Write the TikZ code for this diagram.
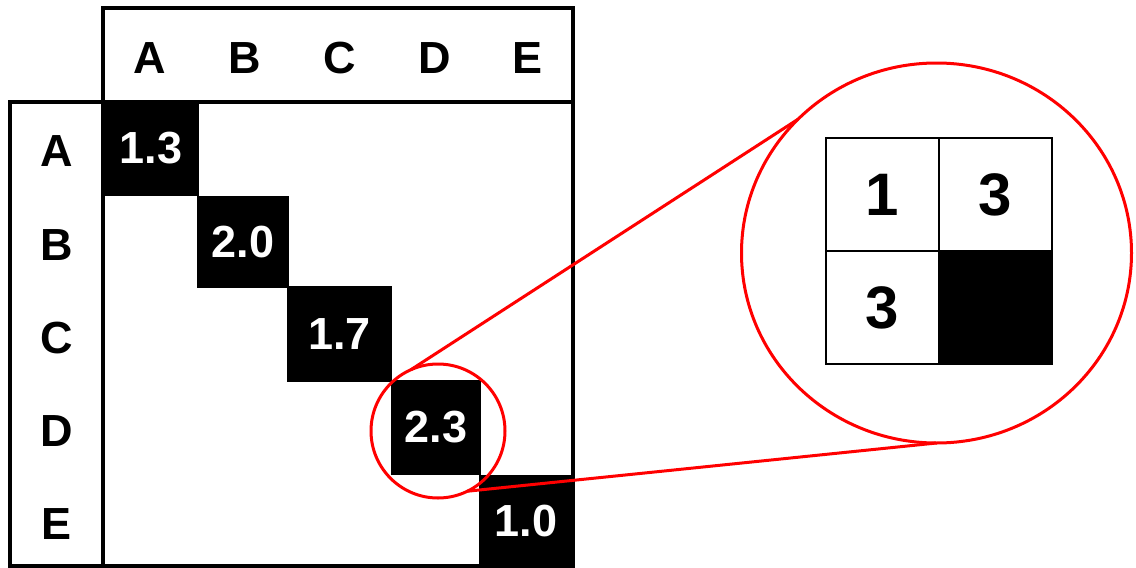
\documentclass[tikz,border=0pt]{standalone}
\usepackage{fontspec}
\setmainfont{Liberation Sans}
\usetikzlibrary{shapes.geometric}
\begin{document}
\begin{tikzpicture}[x=1pt,y=-1pt,
  frame/.style={draw=black,line width=4pt},
  blk/.style={fill=black,draw=none,inner sep=0pt,text=white,font=\fontsize{45}{45}\selectfont\bfseries},
  lab/.style={inner sep=0pt,font=\fontsize{45}{45}\selectfont\bfseries},
  zcell/.style={draw=black,line width=2.5pt,minimum width=113pt,minimum height=113pt,inner sep=0pt,font=\fontsize{60}{60}\selectfont\bfseries},
  zoomline/.style={draw=red,line width=3pt}]
\useasboundingbox (0,0) rectangle (1136,568);
\fill[white] (0,0) rectangle (1136,568);
% frames
\draw[frame] (103,8) rectangle (573,102);
\draw[frame] (10,102) rectangle (103,566);
\draw[frame] (103,102) rectangle (573,566);
% header labels
\node[lab] (hA) at (150,58) {A};
\node[lab] (hB) at (245,58) {B};
\node[lab] (hC) at (340,58) {C};
\node[lab] (hD) at (435,58) {D};
\node[lab] (hE) at (528,58) {E};
\node[lab] (rA) at (57,151) {A};
\node[lab] (rB) at (57,245) {B};
\node[lab] (rC) at (57,338) {C};
\node[lab] (rD) at (57,431) {D};
\node[lab] (rE) at (57,524) {E};
% diagonal cells
\node[blk,minimum width=96pt,minimum height=95pt] (cA) at (151,148.5) {1.3};
\node[blk,minimum width=92pt,minimum height=92pt] (cB) at (243,242) {2.0};
\node[blk,minimum width=105pt,minimum height=96pt] (cC) at (339.5,334) {1.7};
\node[blk,minimum width=90pt,minimum height=95pt] (cD) at (436,427.5) {2.3};
\node[blk,minimum width=94pt,minimum height=93pt] (cE) at (526,521.5) {1.0};
% zoomed grid
\node[zcell] (z11) at (882.5,194.5) {1};
\node[zcell] (z12) at (995.5,194.5) {3};
\node[zcell] (z21) at (882.5,307.5) {3};
\node[zcell,fill=black] (z22) at (995.5,307.5) {};
% circles
\node[draw=red,line width=3pt,circle,minimum size=134pt,inner sep=0pt,outer sep=0pt] (zs) at (438,431) {};
\node[draw=red,line width=3pt,ellipse,minimum width=390pt,minimum height=380pt,inner sep=0pt,outer sep=0pt] (zb) at (936.5,253) {};
\draw[zoomline] (zs.114) -- (zb.136);
\draw[zoomline] (zs.-64) -- (zb.-90);
\end{tikzpicture}
\end{document}
